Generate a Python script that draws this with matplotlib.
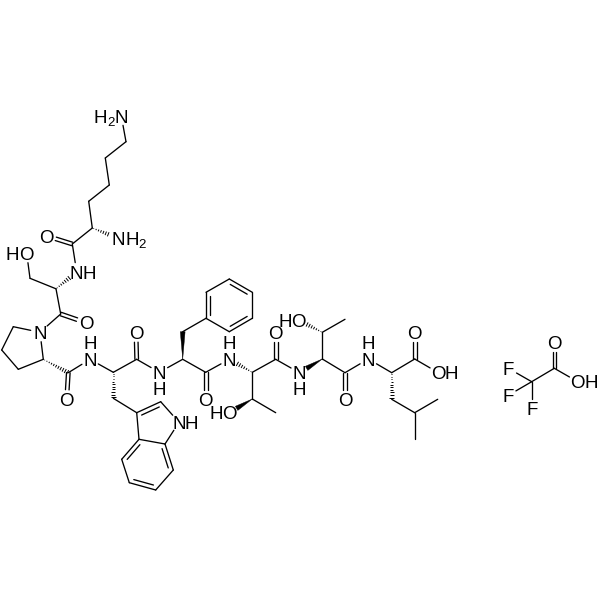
import numpy as np
import matplotlib
matplotlib.use("Agg")
import matplotlib.pyplot as plt
from matplotlib.collections import LineCollection
from matplotlib.patches import Polygon

# Skeleton atoms: name -> (x, y)
atom_names = ["Ke","Kd","Kg","Kb","Ka","Kc","Kn","Kae","Ko",
              "Sn","Sa","Sb","Sog","Sc","So",
              "Pn","Pd","Pg","Pb","Pa","Pc","Po",
              "Wn","Wa","Wb","W3","W2","W1","W7a","W3a","W4","W5","W6","W7","Wc","Wo",
              "Fn","Fa","Fb","F1","F2","F3","F4","F5","F6","Fc","Fo",
              "Tn","Ta","Tb","Tog","Tm","Tc","To",
              "Un","Ua","Ub","Uog","Um","Uc","Uo",
              "Ln","La","Lb","Lg","Ld1","Ld2","Lc","Lo","Loh",
              "Ac","Ao","Aoh","Af","Af1","Af2","Af3"]
atom_x = [126,105.3,109.3,88.7,92.3,72.3,118.3,121.3,46.7,
          76.7,56,30,26.7,60.7,86,
          40,13.3,1.7,18.3,43.3,68.3,66.7,
          90,113.3,113.3,136.7,160.7,179,165,139,121.7,129.3,155.7,173.3,136.7,136,
          159.3,182.7,182.7,206,206,229.3,252.3,252.3,229.3,205.7,205.7,
          229.3,252.3,252.3,229.3,275.7,275.7,275.7,
          299.3,322.3,322.3,298.3,345,345,345,
          368.3,391.7,391.7,414.7,437.7,414.7,414.7,414.7,438.3,
          554.3,554.3,577.7,531.7,508.3,507.7,531.7]
atom_y = [141.7,158,185,201.3,228,244,238.3,116,236,
          272,288.8,278.3,253.3,314,322.7,
          332.3,326.7,350,369.3,359.3,372.7,399.3,
          359.3,372.3,398.3,412.7,401.7,422.3,444,439.3,459.3,482.7,490,470,359.3,332.7,
          372.3,359.3,331.7,318.3,292.3,279,292.3,318.3,331.7,372.3,399.3,
          359.3,372.3,399,412.7,412.7,359.3,332.7,
          372.7,359,332.3,320,319.3,372.7,399.3,
          359,372.7,399.3,412.7,399.3,439,359,332.7,372.7,
          368.3,342.7,381.7,381.7,368.3,395.7,408.3]
hetero_atoms = ["Kn","Kae","Ko","Sn","Sog","So","Pn","Po","Wn","W1","Wo","Fn","Fo",
                "Tn","Tog","To","Un","Uog","Uo","Ln","Lo","Loh","Ao","Aoh",
                "Af1","Af2","Af3"]

single_bonds = [("Kae","Ke"),("Ke","Kd"),("Kd","Kg"),("Kg","Kb"),("Kb","Ka"),("Ka","Kc"),("Kc","Sn"),
                ("Sa","Sb"),("Sb","Sog"),("Sa","Sc"),("Sc","Pn"),
                ("Pn","Pd"),("Pd","Pg"),("Pg","Pb"),("Pb","Pa"),("Pa","Pn"),("Pc","Wn"),
                ("Wn","Wa"),("Wa","Wc"),("Wb","W3"),("W2","W1"),("W1","W7a"),("W7a","W3a"),("W3a","W3"),
                ("W4","W5"),("W6","W7"),("Wc","Fn"),("Fn","Fa"),("Fa","Fc"),("Fb","F1"),
                ("F2","F3"),("F4","F5"),("F6","F1"),("Fc","Tn"),("Ta","Tb"),("Tb","Tm"),("Ta","Tc"),
                ("Tc","Un"),("Ua","Ub"),("Ub","Um"),("Ua","Uc"),("Uc","Ln"),("Ln","La"),("Lb","Lg"),
                ("Lg","Ld1"),("Lg","Ld2"),("La","Lc"),("Lc","Loh"),
                ("Ac","Af"),("Ac","Aoh"),("Af","Af1"),("Af","Af2"),("Af","Af3")]
carbonyl_bonds = [("Kc","Ko"),("Sc","So"),("Pc","Po"),("Wc","Wo"),("Fc","Fo"),("Tc","To"),
                  ("Uc","Uo"),("Lc","Lo"),("Ac","Ao")]
# aromatic double bond: (atom, atom, atom on the ring side)
ring_double_bonds = [("W3","W2","W1"),("W3a","W4","W6"),("W5","W6","W3a"),("W7","W7a","W5"),
                     ("F1","F2","F4"),("F3","F4","F6"),("F5","F6","F2")]
wedge_bonds = [("Fa","Fb"),("Tb","Tog"),("Ua","Un")]
hash_bonds = [("Ka","Kn"),("Sa","Sn"),("Pa","Pc"),("Wa","Wb"),("Ta","Tn"),("Ub","Uog"),("La","Lb")]

label_text = ["H","2","N","N","H","2","O","N","H","H","O","O",
              "N","O","N","H","O","N","H","N","H","O",
              "N","H","H","O","O","N","H","H","O","O",
              "N","H","O","O","H","O","O","H","F","F","F"]
label_x = [100.3,110.8,121.3,118.3,132.3,142.3,46.7,76.7,89,12,26.7,86,
           40,66.7,90,90,136,179,191.7,159.3,159.3,205.7,
           229.3,229.3,216.7,229.3,275.7,299.3,299.3,285,298.3,345,
           368.3,368.3,414.7,438.3,451.7,554.3,577.7,591.7,508.3,507.7,531.7]
label_y = [116,121.5,116,238.3,238.3,243,236,272,272,253.3,253.3,322.7,
           332.3,399.3,359.3,342.3,332.7,422.3,422.3,372.3,388.3,399.3,
           359.3,342.3,412.7,412.7,332.7,372.7,388.3,320,320,399.3,
           359,342.7,332.7,372.7,372.7,342.7,381.7,381.7,368.3,395.7,408.3]
subscript_digits = ["2"]

LW = 0.95
SHRINK = 9.5
pos = {n: np.array([x, y], float) for n, x, y in zip(atom_names, atom_x, atom_y)}

def ends(a, b):
    p, q = pos[a].copy(), pos[b].copy()
    u = (q - p) / np.linalg.norm(q - p)
    if a in hetero_atoms:
        p = p + u * SHRINK
    if b in hetero_atoms:
        q = q - u * SHRINK
    return p, q, u

fig = plt.figure(figsize=(6, 6), dpi=100)
ax = fig.add_axes([0, 0, 1, 1])
ax.set_xlim(0, 600)
ax.set_ylim(600, 0)
ax.axis("off")

segs = []
for a, b in single_bonds:
    p, q, _ = ends(a, b)
    segs.append([p, q])
for a, b in carbonyl_bonds:
    p, q, u = ends(a, b)
    n = np.array([-u[1], u[0]]) * 1.8
    segs.append([p + n, q + n])
    segs.append([p - n, q - n])
for a, b, side in ring_double_bonds:
    p, q, u = ends(a, b)
    segs.append([p, q])
    n = np.array([-u[1], u[0]])
    if np.dot(n, pos[side] - p) < 0:
        n = -n
    segs.append([p + n * 4.2 + u * 3.5, q + n * 4.2 - u * 3.5])
ax.add_collection(LineCollection(segs, colors="black", linewidths=LW, capstyle="round"))

for a, b in wedge_bonds:
    p, q = pos[a], pos[b]
    v = q - p
    u = v / np.linalg.norm(v)
    q2 = q - u * (SHRINK - 1 if b in hetero_atoms else 0)
    n = np.array([-u[1], u[0]]) * 2.4
    ax.add_patch(Polygon([p, q2 + n, q2 - n], closed=True, fc="black", ec="black", lw=0.3))

hash_segs = []
for a, b in hash_bonds:
    p, q = pos[a], pos[b]
    v = q - p
    L = np.linalg.norm(v)
    u = v / L
    end = L - (SHRINK - 1 if b in hetero_atoms else 0)
    n = np.array([-u[1], u[0]])
    for t in np.arange(1.5, end + 0.1, 2.6):
        w = 0.2 + 2.3 * t / end
        c = p + u * t
        hash_segs.append([c - n * w, c + n * w])
ax.add_collection(LineCollection(hash_segs, colors="black", linewidths=0.7))

for txt, x, y in zip(label_text, label_x, label_y):
    small = txt in subscript_digits
    size = 9.5 if small else 13.5
    cap = 4.7 if small else 6.7
    ax.text(x, y + cap, txt, fontsize=size, family="Liberation Sans", ha="center", va="baseline", color="black")

fig.savefig("out.png", dpi=100, facecolor="white")
